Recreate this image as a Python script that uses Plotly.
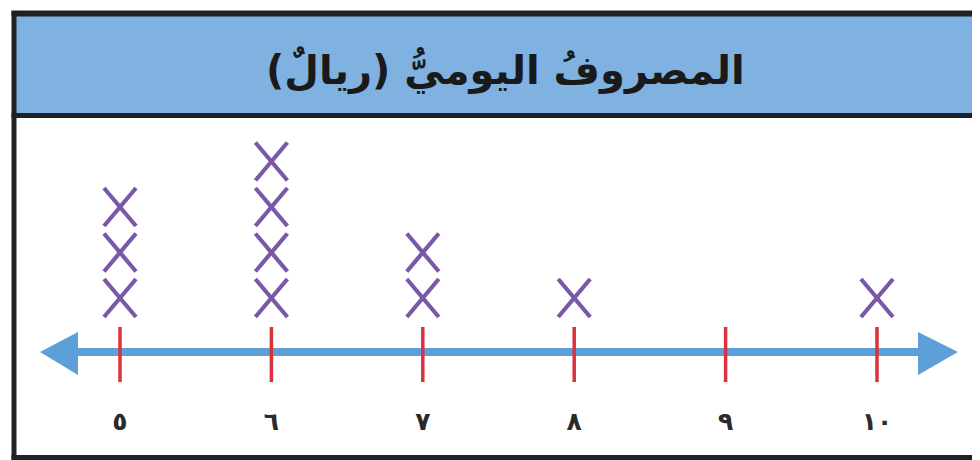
import plotly.graph_objects as go

# data: daily spending (riyal) -> how many days
values = [5, 6, 7, 8, 9, 10]
counts = [3, 4, 2, 1, 0, 1]
tick_labels = ["٥", "٦", "٧", "٨", "٩", "١٠"]
title = "المصروفُ اليوميُّ (ريالٌ)"

W, H = 980, 460
OFF = 8  # page body margin in the browser
# pixel geometry of the number line (screen pixels)
px0, px_step = 120, 151.4          # x pixel of value 5, pixels per unit
row0, row_step = 343.5, 45.5       # y pixel of stack level 0, pixels per level

def xd(px):
    return values[0] + (px - px0) / px_step

def yd(py):
    return (row0 - py) / row_step

def xp(px):  # paper coords from screen pixels
    return (px - OFF) / W

def yp(py):
    return 1 - (py - OFF) / H

BLUE = "#5d9fd8"
HEAD = "#7fb2e1"
RED = "#d9323c"
PURPLE = "#7a58a8"
DARK = "#1e2125"

# stacked X marks, drawn as two strokes each (a bit taller than wide)
hw = 16 / px_step
hh = 19 / row_step
xs, ys = [], []
for v, c in zip(values, counts):
    for k in range(1, c + 1):
        xs += [v - hw, v + hw, None, v - hw, v + hw, None]
        ys += [k + hh, k - hh, None, k - hh, k + hh, None]

fig = go.Figure()

# number line body
line_y = yd(352)
fig.add_trace(go.Scatter(
    x=[xd(70), xd(925)], y=[line_y, line_y], mode="lines",
    line=dict(color=BLUE, width=8), hoverinfo="skip", showlegend=False))

# red tick marks
tx, ty = [], []
for v in values:
    tx += [v, v, None]
    ty += [yd(327), yd(382), None]
fig.add_trace(go.Scatter(
    x=tx, y=ty, mode="lines", line=dict(color=RED, width=3.5),
    hoverinfo="skip", showlegend=False))

# X marks
fig.add_trace(go.Scatter(
    x=xs, y=ys, mode="lines", line=dict(color=PURPLE, width=4.2),
    hoverinfo="skip", showlegend=False))

# tick labels
fig.add_trace(go.Scatter(
    x=values, y=[yd(424)] * len(values), mode="text",
    text=["<b>" + t + "</b>" for t in tick_labels],
    textfont=dict(family="DejaVu Sans", size=25, color="#2a2a2a"),
    textposition="middle center", hoverinfo="skip", showlegend=False))

shapes = [
    # header band
    dict(type="rect", xref="paper", yref="paper", x0=xp(12), x1=1.02,
         y0=yp(115), y1=yp(13.5), fillcolor=HEAD, line=dict(width=0), layer="below"),
    # top border
    dict(type="line", xref="paper", yref="paper", x0=xp(11.5), x1=1.02,
         y0=yp(13.5), y1=yp(13.5), line=dict(color=DARK, width=6)),
    # header bottom line
    dict(type="line", xref="paper", yref="paper", x0=xp(11.5), x1=1.02,
         y0=yp(115.5), y1=yp(115.5), line=dict(color=DARK, width=5)),
    # left border
    dict(type="line", xref="paper", yref="paper", x0=xp(14), x1=xp(14),
         y0=yp(11), y1=yp(459.5), line=dict(color=DARK, width=5)),
    # bottom border
    dict(type="line", xref="paper", yref="paper", x0=xp(11.5), x1=1.02,
         y0=yp(457.5), y1=yp(457.5), line=dict(color=DARK, width=5)),
    # arrow heads
    dict(type="path", xref="x", yref="y",
         path=f"M {xd(40)} {line_y} L {xd(78)} {yd(332)} L {xd(78)} {yd(375)} Z",
         fillcolor=BLUE, line=dict(width=0)),
    dict(type="path", xref="x", yref="y",
         path=f"M {xd(958)} {line_y} L {xd(918)} {yd(332)} L {xd(918)} {yd(375)} Z",
         fillcolor=BLUE, line=dict(width=0)),
]

fig.update_layout(
    width=W, height=H,
    margin=dict(l=0, r=0, t=0, b=0),
    paper_bgcolor="white", plot_bgcolor="white",
    xaxis=dict(range=[xd(OFF), xd(W + OFF)], visible=False, fixedrange=True),
    yaxis=dict(range=[yd(H + OFF), yd(OFF)], visible=False, fixedrange=True),
    shapes=shapes,
    annotations=[dict(
        text="<b>" + title + "</b>", xref="paper", yref="paper",
        x=xp(505), y=yp(70), xanchor="center", yanchor="middle", showarrow=False,
        font=dict(family="DejaVu Sans", size=40, color="#1a1a1a"))],
)

fig.write_html("out.html")
